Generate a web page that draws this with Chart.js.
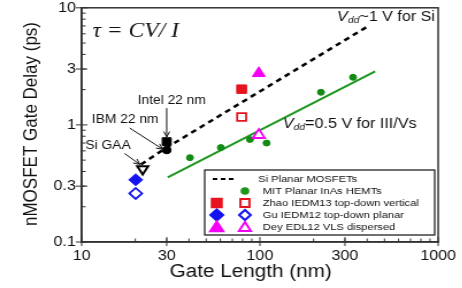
<!DOCTYPE html>
<html>
<head>
<meta charset="utf-8">
<script src="https://cdn.jsdelivr.net/npm/chart.js"></script>
<style>
  html, body { margin: 0; padding: 0; background: #fff; overflow: hidden; }
  /* the source figure is stretched sideways, so draw narrow and stretch */
  #c { width: 402px; height: 288px; transform: scaleX(1.15); transform-origin: 0 0; }
</style>
</head>
<body>
<canvas id="c" width="402" height="288"></canvas>
<script>
// tick values
const xTicks = [10, 30, 100, 300, 1000];
const yTicks = [0.1, 0.3, 1, 3, 10];

// Si planar MOSFETs (dashed trend + labelled devices)
const siLineX = [21.5, 30, 400];
const siLineY = [0.46, 0.64, 6.9];
const siNames = ['Intel 22 nm', 'IBM 22 nm', 'Si GAA'];
const siX = [30, 30, 22];
const siY = [0.72, 0.61, 0.42];

// MIT planar InAs HEMTs
const mitX = [40.5, 60.4, 87.9, 109, 220, 333];
const mitY = [0.525, 0.64, 0.75, 0.70, 1.9, 2.55];
const mitFitX = [30.4, 443];
const mitFitY = [0.356, 2.87];

// nanowire results (filled, open)
const zhaoX = [79, 79];
const zhaoY = [2.02, 1.17];
const guX = [20.1, 20.1];
const guY = [0.34, 0.26];
const deyX = [98.6, 98.6];
const deyY = [2.76, 0.82];

const legendNames = ['Si Planar MOSFETs', 'MIT Planar InAs HEMTs', 'Zhao IEDM13 top-down vertical',
  'Gu IEDM12 top-down planar', 'Dey EDL12 VLS dispersed'];

// annotations, in data units
const noteX = [20.6, 11.4, 10.5];
const noteY = [1.6, 1.10, 0.66];
const arrowFromX = [30, 18.6, 17.4];
const arrowFromY = [1.39, 0.94, 0.57];
const arrowToX = [30, 28.5, 21.2];
const arrowToY = [0.79, 0.62, 0.46];

const RED = '#e6141e', BLUE = '#1414f0', MAGENTA = '#f500f5', GREEN = '#1f961f';
const SANS = "'Liberation Sans', Arial, sans-serif";

const pts = (xs, ys) => xs.map((x, i) => ({ x: x, y: ys[i] }));

function arrow(ctx, x0, y0, x1, y1) {
  const ang = Math.atan2(y1 - y0, x1 - x0);
  ctx.beginPath();
  ctx.moveTo(x0, y0);
  ctx.lineTo(x1, y1);
  ctx.moveTo(x1 - 6 * Math.cos(ang - 0.45), y1 - 6 * Math.sin(ang - 0.45));
  ctx.lineTo(x1, y1);
  ctx.lineTo(x1 - 6 * Math.cos(ang + 0.45), y1 - 6 * Math.sin(ang + 0.45));
  ctx.stroke();
}

// V_dd label: italic V, italic subscript dd, then plain text
function vddText(ctx, x, y, rest) {
  ctx.textAlign = 'left';
  ctx.textBaseline = 'middle';
  ctx.font = 'italic 14px ' + SANS;
  ctx.fillText('V', x, y);
  x += ctx.measureText('V').width;
  ctx.font = 'italic 9px ' + SANS;
  ctx.fillText('dd', x, y + 4);
  x += ctx.measureText('dd').width;
  ctx.font = '14px ' + SANS;
  ctx.fillText(rest, x, y);
}

const extras = {
  id: 'extras',
  afterDraw(chart) {
    const { ctx, chartArea: a, scales: { x, y } } = chart;
    const H = Chart.helpers;
    ctx.save();

    // frame
    ctx.strokeStyle = '#333';
    ctx.lineWidth = 1.5;
    ctx.strokeRect(a.left, a.top, a.right - a.left, a.bottom - a.top);

    // tick marks
    ctx.lineWidth = 1;
    ctx.beginPath();
    xTicks.forEach(v => { const px = x.getPixelForValue(v); ctx.moveTo(px, a.bottom + 4); ctx.lineTo(px, a.bottom - 5); });
    yTicks.forEach(v => { const py = y.getPixelForValue(v); ctx.moveTo(a.left - 5, py); ctx.lineTo(a.left + 5, py); });
    [10, 100].forEach(d => { for (let m = 2; m < 10; m++) { const px = x.getPixelForValue(d * m); ctx.moveTo(px, a.bottom); ctx.lineTo(px, a.bottom - 3.5); } });
    [0.1, 1].forEach(d => { for (let m = 2; m < 10; m++) { const py = y.getPixelForValue(d * m); ctx.moveTo(a.left, py); ctx.lineTo(a.left + 3.5, py); } });
    ctx.stroke();

    // axis titles
    ctx.fillStyle = '#111';
    ctx.font = '17px ' + SANS;
    ctx.textAlign = 'center';
    ctx.textBaseline = 'middle';
    ctx.save();
    ctx.translate(27.8, 124);
    ctx.rotate(-Math.PI / 2);
    ctx.fillText('nMOSFET Gate Delay (ps)', 0, 0);
    ctx.restore();
    ctx.font = '18px ' + SANS;
    ctx.fillText('Gate Length (nm)', 218, 272);

    // formula
    ctx.font = 'italic 20.5px "Liberation Serif", "Times New Roman", serif';
    ctx.textAlign = 'left';
    ctx.fillText('\u03c4 = CV/ I', x.getPixelForValue(11.5), y.getPixelForValue(6.3));

    // Vdd labels
    ctx.fillStyle = '#111';
    vddText(ctx, x.getPixelForValue(271), y.getPixelForValue(8.4), '~1 V for Si');
    vddText(ctx, x.getPixelForValue(134.6), y.getPixelForValue(1.02), '=0.5 V for III/Vs');

    // device labels and arrows
    ctx.font = '12px ' + SANS;
    ctx.textAlign = 'left';
    ctx.textBaseline = 'middle';
    ctx.strokeStyle = '#111';
    ctx.lineWidth = 1;
    siNames.forEach((n, i) => {
      ctx.fillText(n, x.getPixelForValue(noteX[i]), y.getPixelForValue(noteY[i]));
      arrow(ctx, x.getPixelForValue(arrowFromX[i]), y.getPixelForValue(arrowFromY[i]),
        x.getPixelForValue(arrowToX[i]), y.getPixelForValue(arrowToY[i]));
    });

    // legend box
    const lx = 178, ly = 170, lw = 200, lh = 65;
    ctx.fillStyle = '#fff';
    ctx.fillRect(lx, ly, lw, lh);
    ctx.strokeStyle = '#111';
    ctx.lineWidth = 1.2;
    ctx.strokeRect(lx, ly, lw, lh);
    const rows = [179, 191, 203, 215, 227];
    const c1 = 188.5, c2 = 213;
    // row 1: dashed line
    ctx.strokeStyle = '#000';
    ctx.lineWidth = 2;
    ctx.setLineDash([4, 3]);
    ctx.beginPath();
    ctx.moveTo(185, rows[0]);
    ctx.lineTo(205, rows[0]);
    ctx.stroke();
    ctx.setLineDash([]);
    // row 2: green dot
    ctx.fillStyle = GREEN;
    ctx.strokeStyle = GREEN;
    H.drawPoint(ctx, { pointStyle: 'circle', radius: 2.8, borderWidth: 1, rotation: 0 }, c2, rows[1]);
    // rows 3-5: filled + open markers
    const lm = [[RED, 'rect', 6], [BLUE, 'rectRot', 5.5], [MAGENTA, 'triangle', 6.5]];
    lm.forEach((m, i) => {
      const ry = rows[i + 2];
      ctx.fillStyle = m[0];
      ctx.strokeStyle = m[0];
      H.drawPoint(ctx, { pointStyle: m[1], radius: m[2], borderWidth: 1, rotation: 0 }, c1, ry + (m[1] === 'triangle' ? 1 : 0));
      ctx.fillStyle = '#fff';
      H.drawPoint(ctx, { pointStyle: m[1], radius: m[2] - 0.5, borderWidth: 1.8, rotation: 0 }, c2, ry + (m[1] === 'triangle' ? 1 : 0));
    });
    ctx.fillStyle = '#111';
    ctx.font = '9.7px ' + SANS;
    ctx.textBaseline = 'middle';
    legendNames.forEach((n, i) => ctx.fillText(n, i === 0 ? 224.5 : 228.5, rows[i]));

    ctx.restore();
  }
};

new Chart(document.getElementById('c'), {
  type: 'scatter',
  data: {
    datasets: [
      {
        label: 'Si devices',
        data: pts(siX, siY),
        pointStyle: ['rect', 'circle', 'triangle'],
        pointRotation: [0, 0, 180],
        pointRadius: [5.5, 3.8, 5.5],
        pointBackgroundColor: ['#000', '#000', '#fff'],
        pointBorderColor: '#000',
        pointBorderWidth: [1, 1, 2]
      },
      {
        label: legendNames[2],
        data: pts(zhaoX, zhaoY),
        pointStyle: 'rect',
        pointRadius: [6, 5.5],
        pointBackgroundColor: [RED, '#fff'],
        pointBorderColor: RED,
        pointBorderWidth: [1, 1.8]
      },
      {
        label: legendNames[3],
        data: pts(guX, guY),
        pointStyle: 'rectRot',
        pointRadius: [6, 5.5],
        pointBackgroundColor: [BLUE, '#fff'],
        pointBorderColor: BLUE,
        pointBorderWidth: [1, 1.8]
      },
      {
        label: legendNames[4],
        data: pts(deyX, deyY),
        pointStyle: 'triangle',
        pointRadius: [6.5, 6],
        pointBackgroundColor: [MAGENTA, '#fff'],
        pointBorderColor: MAGENTA,
        pointBorderWidth: [1, 1.8]
      },
      {
        label: legendNames[1],
        data: pts(mitX, mitY),
        pointStyle: 'circle',
        pointRadius: 3,
        pointBackgroundColor: '#138a13',
        pointBorderColor: '#138a13'
      },
      {
        label: 'MIT fit',
        data: pts(mitFitX, mitFitY),
        showLine: true,
        pointRadius: 0,
        borderColor: GREEN,
        borderWidth: 2
      },
      {
        label: legendNames[0],
        data: pts(siLineX, siLineY),
        showLine: true,
        pointRadius: 0,
        borderColor: '#000',
        borderWidth: 2.5,
        borderDash: [5, 4]
      }
    ]
  },
  options: {
    responsive: false,
    animation: false,
    events: [],
    layout: { padding: { top: 6, right: 21, left: 0, bottom: 0 } },
    plugins: { legend: { display: false }, tooltip: { enabled: false } },
    scales: {
      x: {
        type: 'logarithmic',
        min: 10,
        max: 1000,
        afterBuildTicks: s => { s.ticks = xTicks.map(v => ({ value: v })); },
        afterFit: s => { s.height = 46; s.paddingLeft = 0; s.paddingRight = 0; },
        grid: { display: false, drawTicks: false },
        border: { display: true, color: '#333', width: 1.5 },
        ticks: { color: '#111', font: { family: SANS, size: 14 }, padding: 6, maxRotation: 0, autoSkip: false, callback: v => String(v) }
      },
      y: {
        type: 'logarithmic',
        min: 0.1,
        max: 10,
        afterBuildTicks: s => { s.ticks = yTicks.map(v => ({ value: v })); },
        afterFit: s => { s.width = 71; s.paddingTop = 0; s.paddingBottom = 0; },
        grid: { display: false, drawTicks: false },
        border: { display: true, color: '#333', width: 1.5 },
        ticks: { color: '#111', font: { family: SANS, size: 14 }, padding: 5, autoSkip: false, callback: v => String(v) }
      }
    }
  },
  plugins: [extras]
});
</script>
</body>
</html>
